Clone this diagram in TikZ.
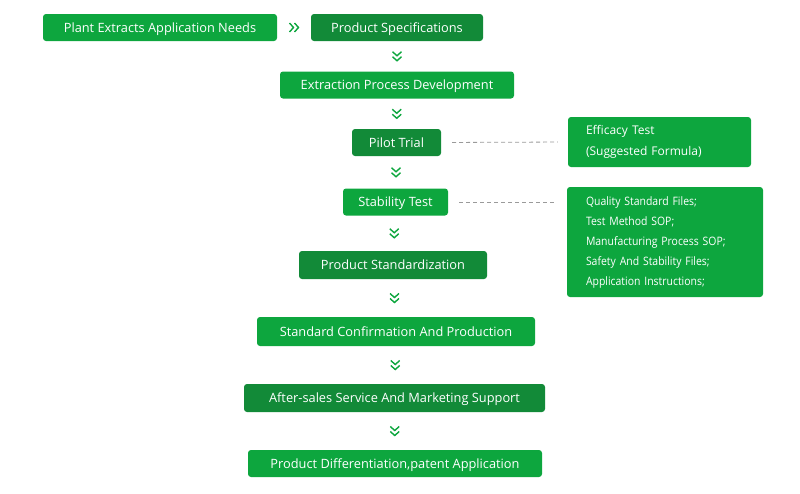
\documentclass[tikz,border=0pt]{standalone}
\usepackage{fontspec}
\setmainfont{Open Sans}
\newfontfamily\narrowfont{Open Sans}[FakeStretch=0.9]
\usepackage{tikz}
\usetikzlibrary{positioning,calc}
\definecolor{leafgreen}{HTML}{0DA63E}
\definecolor{darkleaf}{HTML}{128A38}
\definecolor{dashgray}{HTML}{9A9A9A}

\begin{document}
\begin{tikzpicture}[x=1pt, y=-1pt,
  box/.style={fill=leafgreen, rounded corners=3pt, text=white, minimum height=27pt, inner sep=0pt, text height=9.2pt, text depth=0pt, font=\fontsize{12.8}{15}\selectfont},
  darkbox/.style={box, fill=darkleaf},
  infobox/.style={fill=leafgreen, rounded corners=3pt, text=white, align=left, inner ysep=0pt, inner xsep=18pt},
  link/.style={dashgray, line width=0.8pt, dash pattern=on 4pt off 3pt, shorten <=11pt, shorten >=10pt},
  chevdown/.pic={\draw[leafgreen, line width=1.4pt] (-4.5,-4.5) -- (0,-0.5) -- (4.5,-4.5) (-4.5,0.5) -- (0,4.5) -- (4.5,0.5);},
  chevright/.pic={\draw[leafgreen, line width=1.4pt] (-4.5,-4.5) -- (-0.5,0) -- (-4.5,4.5) (0.5,-4.5) -- (4.5,0) -- (0.5,4.5);}
]
\useasboundingbox (0,0) rectangle (800,493);

% main chain
\node[box, minimum width=234pt] (needs) at (160,27.5) {Plant Extracts Application Needs};
\node[darkbox, minimum width=172pt] (specs) at (397,27.5) {Product Specifications};
\node[box, minimum width=234pt] (extract) at (397,85) {Extraction Process Development};
\node[darkbox, minimum width=89pt] (pilot) at (396.5,142.5) {Pilot Trial};
\node[box, minimum width=105pt] (stab) at (395.5,202) {Stability Test};
\node[darkbox, minimum width=188pt, minimum height=28pt] (standard) at (393,265) {Product Standardization};
\node[box, minimum width=278pt, minimum height=29pt] (confirm) at (396,331.5) {Standard Confirmation And Production};
\node[darkbox, minimum width=301pt, minimum height=28pt] (aftersales) at (394.5,398) {After-sales Service And Marketing Support};
\node[box, minimum width=294pt] (patent) at (395,463.5) {Product Differentiation,patent Application};

% side notes
\node[infobox, text width=147pt, minimum height=50pt, font=\fontsize{12}{21}\selectfont] (efficacy) at (659.5,142) {Efficacy Test\\(Suggested Formula)};
\node[infobox, text width=158pt, inner xsep=19pt, minimum height=110pt, font=\narrowfont\fontsize{11.6}{20}\selectfont] (files) at (665,242) {Quality Standard Files;\\Test Method SOP;\\Manufacturing Process SOP;\\Safety And Stability Files;\\Application Instructions;};

% chevrons
\path (needs.east) -- pic{chevright} (specs.west);
\path (specs.south) -- pic{chevdown} (extract.north);
\path (extract.south) -- pic{chevdown} (pilot.north);
\path (pilot.south) -- pic{chevdown} (stab.north);
\path (stab.south) -- pic{chevdown} (standard.north);
\path (standard.south) -- pic{chevdown} (confirm.north);
\path (confirm.south) -- pic{chevdown} (aftersales.north);
\path (aftersales.south) -- pic{chevdown} (patent.north);

% dashed links
\draw[link] (pilot.east) -- (efficacy.west);
\draw[link] (stab.east) -- (stab.east -| files.west);

\end{tikzpicture}
\end{document}
